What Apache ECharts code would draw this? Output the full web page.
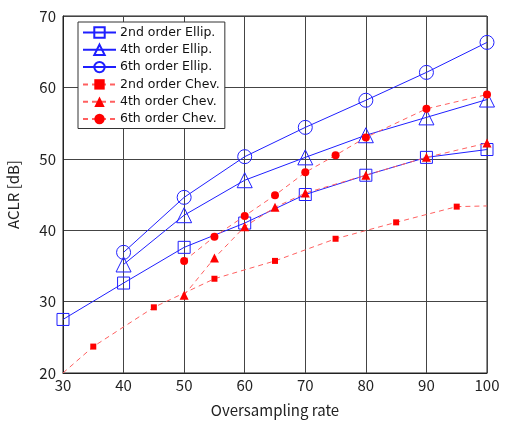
<!DOCTYPE html>
<html lang="en">
<head>
    <meta charset="UTF-8">
    <title>ACLR vs Oversampling rate</title>
    <style>
        *{
            margin: 0;
        }
        html,body{
            height: 100%;
            background: #fff;
        }
        #chart{
            width: 505px;
            height: 421px;
        }
    </style>
    <script src="https://cdn.jsdelivr.net/npm/echarts@6/dist/echarts.min.js"></script>
</head>
<body>
<div id="chart"></div>
<script>
    // 数据
    const ellipX = [30, 40, 50, 60, 70, 80, 90, 100];
    const ellip2 = [27.5, 32.6, 37.6, 41.0, 45.0, 47.7, 50.2, 51.3];
    const ellip4X = [40, 50, 60, 70, 80, 90, 100];
    const ellip4 = [35.2, 42.1, 47.0, 50.2, 53.3, 55.8, 58.3];
    const ellip6X = [40, 50, 60, 70, 80, 90, 100];
    const ellip6 = [36.9, 44.6, 50.3, 54.4, 58.2, 62.1, 66.3];

    const chev2X = [30, 35, 45, 55, 65, 75, 85, 95, 100];
    const chev2 = [20, 23.7, 29.2, 33.2, 35.7, 38.8, 41.1, 43.3, 43.4];
    const chev4X = [50, 55, 60, 65, 70, 80, 90, 100];
    const chev4 = [30.9, 36.1, 40.5, 43.2, 45.2, 47.7, 50.2, 52.2];
    const chev6X = [50, 55, 60, 65, 70, 75, 80, 90, 100];
    const chev6 = [35.7, 39.1, 42.0, 44.9, 48.1, 50.5, 53.0, 57.0, 59.0];

    const FONT = '"Noto Sans CJK JP", "DejaVu Sans", sans-serif';
    const BLUE = '#1f1fff';
    const RED = '#ff0000';

    function pairs(xs, ys) {
        return xs.map(function (x, i) { return [x, ys[i]]; });
    }

    // 2nd order Chev: curve ends carry no marker
    function chevEnds(xs, ys) {
        return xs.map(function (x, i) {
            if (i === 0 || i === xs.length - 1) {
                return {value: [x, ys[i]], symbol: 'none'};
            }
            return [x, ys[i]];
        });
    }

    function ellipSeries(name, data, symbol, size) {
        return {
            name: name,
            type: 'line',
            data: data,
            symbol: symbol,
            symbolSize: size,
            showAllSymbol: true,
            lineStyle: {color: BLUE, width: 1},
            itemStyle: {color: 'rgba(0,0,0,0)', borderColor: BLUE, borderWidth: 1},
            emphasis: {disabled: true},
            z: 3
        };
    }

    function chevSeries(name, data, symbol, size) {
        return {
            name: name,
            type: 'line',
            data: data,
            symbol: symbol,
            symbolSize: size,
            showAllSymbol: true,
            lineStyle: {color: '#ff6060', width: 1, type: [5, 4]},
            itemStyle: {color: RED, borderWidth: 0},
            emphasis: {disabled: true},
            z: 4
        };
    }

    const myChart = echarts.init(document.getElementById('chart'));
    myChart.setOption({
        animation: false,
        textStyle: {fontFamily: FONT},
        grid: {
            left: 63,
            right: 18,
            top: 16,
            bottom: 48,
            outerBoundsMode: 'none',
            containLabel: false,
            show: true,
            borderColor: '#222',
            borderWidth: 1
        },
        legend: {
            orient: 'vertical',
            left: 78,
            top: 22,
            padding: [4, 5, 3, 4],
            itemWidth: 33,
            itemHeight: 13,
            itemGap: 4.3,
            borderColor: '#333',
            borderWidth: 1,
            backgroundColor: '#fff',
            textStyle: {fontSize: 12.5, color: '#111', fontFamily: '"DejaVu Sans", sans-serif', padding: [0, 0, 0, -1]},
            data: ['2nd order Ellip.', '4th order Ellip.', '6th order Ellip.',
                '2nd order Chev.', '4th order Chev.', '6th order Chev.']
        },
        xAxis: {
            type: 'value',
            min: 30,
            max: 100,
            interval: 10,
            name: 'Oversampling rate',
            nameLocation: 'middle',
            nameGap: 30,
            nameTextStyle: {fontSize: 15, color: '#222'},
            axisLine: {lineStyle: {color: '#222'}},
            axisTick: {show: false},
            axisLabel: {fontSize: 15, color: '#222', margin: 5},
            splitLine: {lineStyle: {color: '#444', width: 1}}
        },
        yAxis: {
            type: 'value',
            min: 20,
            max: 70,
            interval: 10,
            name: 'ACLR [dB]',
            nameLocation: 'middle',
            nameRotate: 90,
            nameGap: 42,
            nameTextStyle: {fontSize: 15, color: '#222'},
            axisLine: {show: true, lineStyle: {color: '#222'}},
            axisTick: {show: false},
            axisLabel: {fontSize: 15, color: '#222', margin: 7},
            splitLine: {lineStyle: {color: '#444', width: 1}}
        },
        series: [
            ellipSeries('2nd order Ellip.', pairs(ellipX, ellip2), 'rect', 12),
            ellipSeries('4th order Ellip.', pairs(ellip4X, ellip4), 'triangle', 15),
            ellipSeries('6th order Ellip.', pairs(ellip6X, ellip6), 'circle', 14),
            chevSeries('2nd order Chev.', chevEnds(chev2X, chev2), 'rect', 6),
            chevSeries('4th order Chev.', pairs(chev4X, chev4), 'triangle', 9),
            chevSeries('6th order Chev.', pairs(chev6X, chev6), 'circle', 8)
        ]
    });
</script>
</body>
</html>
